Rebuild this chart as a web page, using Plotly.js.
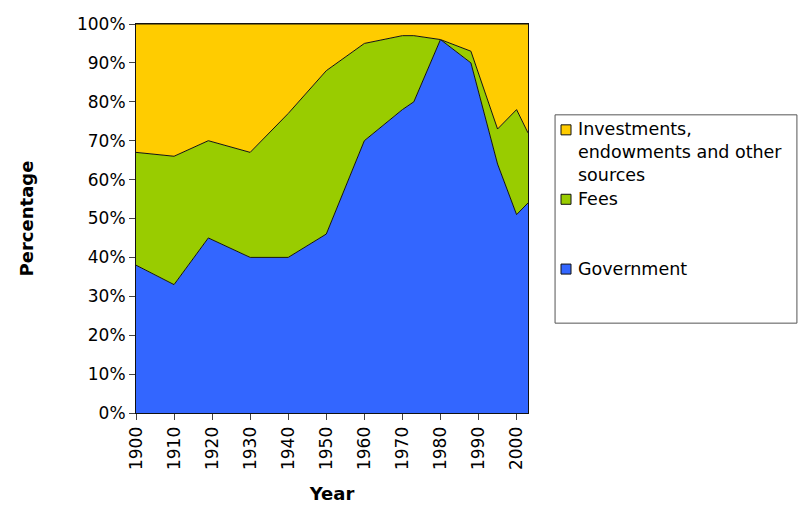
<!DOCTYPE html>
<html>
<head>
<meta charset="utf-8">
<script src="https://cdn.plot.ly/plotly-3.0.1.min.js"></script>
<style>html,body{margin:0;padding:0;background:#fff;}#chart{width:800px;height:520px;}</style>
</head>
<body>
<div id="chart"></div>
<script>
// Data (percent of funding)
const years = [1900, 1910, 1919, 1930, 1940, 1950, 1960, 1970, 1973, 1980, 1988, 1995, 2000, 2003];
const government = [38, 33, 45, 40, 40, 46, 70, 78, 80, 96, 90, 64, 51, 54];
const fees = [29, 33, 25, 27, 37, 42, 25, 19, 17, 0, 3, 9, 27, 18];
const investments = [33, 34, 30, 33, 23, 12, 5, 3, 3, 4, 7, 27, 22, 28];

const seriesNames = ["Government", "Fees", "Investments,<br>endowments and other<br>sources"];
const seriesColors = ["#3366FF", "#99CC00", "#FFCC00"];
const seriesValues = [government, fees, investments];

const xTitle = "Year";
const yTitle = "Percentage";
const FONT = "DejaVu Sans, Verdana, sans-serif";

const traces = seriesValues.map((vals, i) => ({
  type: "scatter",
  mode: "lines",
  x: years,
  y: vals,
  name: seriesNames[i],
  stackgroup: "one",
  fillcolor: seriesColors[i],
  line: {color: "#111111", width: 1},
  showlegend: false,
  hoverinfo: "x+y+name"
}));

// Manual legend (Excel-style box)
const legendX0 = 1.069, legendX1 = 1.686, legendY0 = 0.231, legendY1 = 0.7665;
const legendRows = [
  {idx: 2, yc: 0.7279, ytext: 0.6712},
  {idx: 1, yc: 0.5494, ytext: 0.5502},
  {idx: 0, yc: 0.370, ytext: 0.370}
];
const sq = 0.01287;
const shapes = [{
  type: "rect", xref: "paper", yref: "paper",
  x0: legendX0, x1: legendX1, y0: legendY0, y1: legendY1,
  line: {color: "#555555", width: 1}, fillcolor: "rgba(0,0,0,0)"
}];
const annotations = [];
legendRows.forEach(r => {
  shapes.push({
    type: "rect", xref: "paper", yref: "paper",
    x0: 1.0842, x1: 1.1097, y0: r.yc - sq, y1: r.yc + sq,
    line: {color: "#111111", width: 1}, fillcolor: seriesColors[r.idx]
  });
  annotations.push({
    xref: "paper", yref: "paper", x: 1.122, y: r.ytext,
    xanchor: "left", yanchor: "middle", align: "left", showarrow: false,
    text: seriesNames[r.idx],
    font: {family: FONT, size: 17.5, color: "#000"}
  });
});

const layout = {
  width: 800, height: 520,
  margin: {l: 136, r: 272, t: 24, b: 107},
  paper_bgcolor: "#ffffff",
  plot_bgcolor: "#ffffff",
  showlegend: false,
  font: {family: FONT, color: "#000"},
  xaxis: {
    range: [1900, 2003],
    tickmode: "linear", tick0: 1900, dtick: 10,
    tickangle: -90,
    ticks: "outside", ticklen: 6, tickcolor: "#444",
    tickfont: {family: FONT, size: 17, color: "#000"},
    showline: true, linecolor: "#111", linewidth: 1, mirror: true,
    showgrid: false, zeroline: false,
    title: {text: xTitle, font: {family: FONT, size: 18, weight: "bold", color: "#000"}, standoff: 18}
  },
  yaxis: {
    range: [0, 100],
    tickmode: "linear", tick0: 0, dtick: 10,
    ticksuffix: "%",
    ticks: "outside", ticklen: 6, tickcolor: "#444",
    tickfont: {family: FONT, size: 17, color: "#000"},
    showline: true, linecolor: "#111", linewidth: 1, mirror: true,
    showgrid: false, zeroline: false,
    title: {text: yTitle, font: {family: FONT, size: 18, weight: "bold", color: "#000"}, standoff: 38}
  },
  shapes: shapes,
  annotations: annotations
};

Plotly.newPlot("chart", traces, layout, {displayModeBar: false, staticPlot: true});
</script>
</body>
</html>
